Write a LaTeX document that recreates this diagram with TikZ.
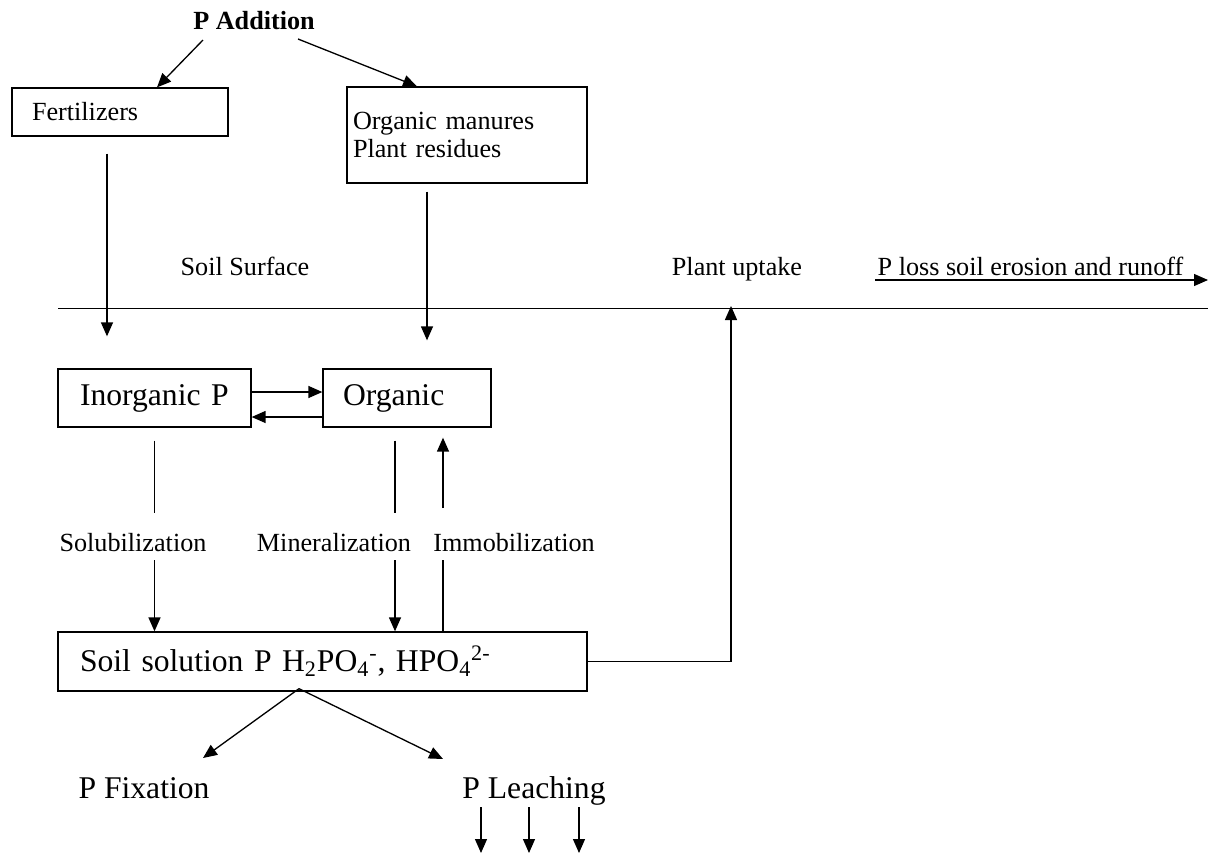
\documentclass[tikz,border=0pt]{standalone}
\usepackage{fontspec}
\setmainfont{Liberation Serif}
\usetikzlibrary{arrows.meta,calc}

\tikzset{
  txt/.style={font=\fontsize{14.9}{15.5}\selectfont},
  big/.style={font=\fontsize{18}{21}\selectfont},
  box/.style={draw, align=left, inner ysep=0pt},
  lbl/.style={txt, inner sep=0pt, anchor=base},
  arr/.style={-{Triangle[length=0.28cm,width=0.24cm]}},
}

\begin{document}
\begin{tikzpicture}[x=0.02cm, y=0.02cm, line width=0.75pt]
\useasboundingbox (0,0) rectangle (1211,-859);

\node[lbl, font=\fontsize{14.9}{15.5}\selectfont\bfseries] (addition) at (254,-29) {P Addition};
\node[box, txt, text width=3.52cm, inner xsep=0.4cm, minimum height=0.96cm] (fert) at (120,-112) {Fertilizers};
\node[box, txt, text width=4.56cm, inner xsep=0.12cm, minimum height=1.92cm] (manure) at (467,-135) {Organic manures\\Plant residues};

\node[lbl] (surface) at (245,-275) {Soil Surface};
\node[lbl] (uptake) at (737,-275) {Plant uptake};
\node[lbl, anchor=base west] (loss) at (877,-275) {P loss soil erosion and runoff};
\coordinate (surfL) at (58,-308);
\coordinate (surfR) at (1208,-308);
\coordinate (lossend) at (1208,-280);
\coordinate (uptip) at (731,-306);

\node[box, big, text width=2.98cm, inner xsep=0.44cm, minimum height=1.16cm] (inorg) at (154.5,-398) {Inorganic P};
\node[box, big, text width=2.56cm, inner xsep=0.4cm, minimum height=1.16cm] (org) at (407,-398) {Organic};

\node[lbl] (solub) at (133,-551) {Solubilization};
\node[lbl] (miner) at (334,-551) {Mineralization};
\node[lbl] (immob) at (514,-551) {Immobilization};

\node[box, big, text width=9.7cm, inner xsep=0.44cm, minimum height=1.18cm] (soln) at (322.5,-661.5) {Soil solution P H\textsubscript{2}PO\textsubscript{4}\textsuperscript{-}, HPO\textsubscript{4}\textsuperscript{2-}};

\node[lbl, big] (fix) at (144,-798) {P Fixation};
\node[lbl, big] (leach) at (534,-798) {P Leaching};

\draw[arr] ($(addition.base)+(-51,-11)$) -- ($(fert.north)+(37,0)$);
\draw[arr] ($(addition.base)+(44,-10)$) -- ($(manure.north)+(-50,0)$);
\draw[arr] ($(fert.south)+(-13,-17)$) -- ($(inorg.north)+(-47.5,32)$);
\draw[arr] ($(manure.south)+(-40,-8)$) -- ($(org.north)+(20,28)$);

\draw[line width=0.5pt] (surfL) -- (surfR);
\draw[arr] ($(loss.base west)+(-2,-5)$) -- (lossend);

\draw[arr] ($(inorg.east)+(0,6)$) -- ($(org.west)+(0,6)$);
\draw[arr] ($(org.west)+(0,-19)$) -- ($(inorg.east)+(0,-19)$);

\coordinate (mx) at ($(org.south)+(-12,0)$);
\coordinate (ix) at ($(org.south)+(36,0)$);
\draw ($(inorg.south)+(0,-13)$) -- ($(inorg.south |- solub.base)+(0,38)$);
\draw[arr] ($(inorg.south |- solub.base)+(0,-9)$) -- (inorg.south |- soln.north);
\draw ($(mx)+(0,-13)$) -- ($(mx |- miner.base)+(0,38)$);
\draw[arr] ($(mx |- miner.base)+(0,-9)$) -- (mx |- soln.north);
\draw (ix |- soln.north) -- ($(ix |- immob.base)+(0,-9)$);
\draw[arr] ($(ix |- immob.base)+(0,43)$) -- ($(ix)+(0,-10)$);

\draw[arr] (soln.east) -| (uptip);

\coordinate (fork) at ($(soln.south)+(-23.5,3)$);
\draw[arr] (fork) -- ($(fix.base)+(59,40)$);
\draw[arr] (fork) -- ($(leach.base)+(-91,39)$);
\foreach \dx in {-53,-5,45}
  \draw[arr] ($(leach.base)+(\dx,-9)$) -- ++(0,-46);

\end{tikzpicture}
\end{document}
